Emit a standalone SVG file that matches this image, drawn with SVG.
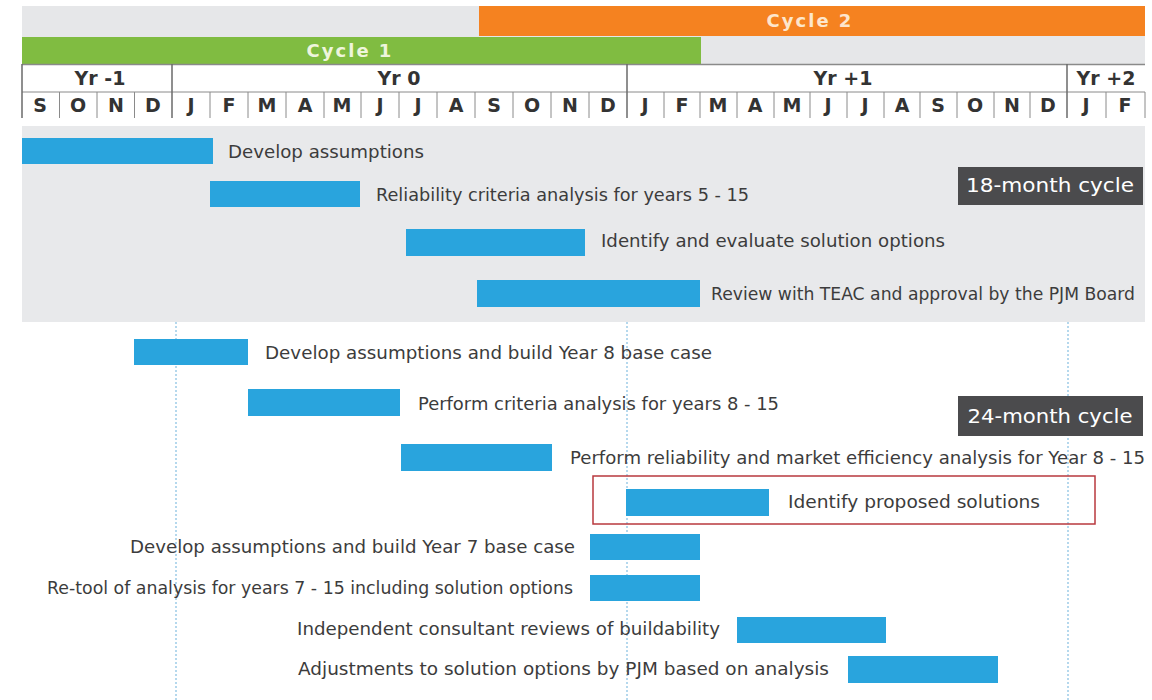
<svg xmlns="http://www.w3.org/2000/svg" width="1152" height="700" viewBox="0 0 1152 700">
<style>
.bar{fill:#29a4dd}
.lbl{font-family:"DejaVu Sans","Liberation Sans",sans-serif;font-size:17px;fill:#3c3c3c}
.hdr{font-family:"DejaVu Sans","Liberation Sans",sans-serif;font-weight:bold;font-size:19px;fill:#333;text-anchor:middle}
.cyc{font-family:"DejaVu Sans","Liberation Sans",sans-serif;font-weight:bold;font-size:18px;letter-spacing:2px;text-anchor:middle}
.box{fill:#4b4b4d}
.boxt{font-family:"DejaVu Sans","Liberation Sans",sans-serif;font-size:19px;fill:#fff;text-anchor:middle}
.msep{stroke:#8a8a8a;stroke-width:1}
.ysep{stroke:#6a6a6a;stroke-width:1.5}
.dot{stroke:#9dcbe8;stroke-width:1.5;stroke-dasharray:2 2;fill:none}
</style>
<rect width="1152" height="700" fill="#fff"/>
<g id="header">
<rect x="22" y="6" width="1123" height="58" fill="#e6e7e9"/>
<rect x="479" y="6" width="666" height="30" fill="#f58220"/>
<rect x="22" y="37" width="679" height="27" fill="#80bc41"/>
<text class="cyc" x="810" y="27" fill="#fde6cc">Cycle 2</text>
<text class="cyc" x="350" y="57" fill="#eef5dc">Cycle 1</text>
<rect x="22" y="64" width="1123" height="54" fill="#fff"/>
<line x1="22" y1="64.5" x2="1145" y2="64.5" stroke="#8a8a8a" stroke-width="1.5"/>
<line x1="22" y1="92" x2="1145" y2="92" stroke="#8a8a8a" stroke-width="1"/>
<line class="ysep" x1="22" y1="64" x2="22" y2="118"/>
<line class="ysep" x1="172" y1="64" x2="172" y2="118"/>
<line class="ysep" x1="627" y1="64" x2="627" y2="118"/>
<line class="ysep" x1="1067" y1="64" x2="1067" y2="118"/>
<g class="msep">
<line x1="59.5" y1="92" x2="59.5" y2="118"/><line x1="97" y1="92" x2="97" y2="118"/><line x1="134.5" y1="92" x2="134.5" y2="118"/>
<line x1="210" y1="92" x2="210" y2="118"/><line x1="248" y1="92" x2="248" y2="118"/><line x1="286" y1="92" x2="286" y2="118"/><line x1="324" y1="92" x2="324" y2="118"/><line x1="361" y1="92" x2="361" y2="118"/><line x1="399" y1="92" x2="399" y2="118"/><line x1="437" y1="92" x2="437" y2="118"/><line x1="475" y1="92" x2="475" y2="118"/><line x1="513" y1="92" x2="513" y2="118"/><line x1="551" y1="92" x2="551" y2="118"/><line x1="589" y1="92" x2="589" y2="118"/>
<line x1="664" y1="92" x2="664" y2="118"/><line x1="700" y1="92" x2="700" y2="118"/><line x1="737" y1="92" x2="737" y2="118"/><line x1="774" y1="92" x2="774" y2="118"/><line x1="810" y1="92" x2="810" y2="118"/><line x1="847" y1="92" x2="847" y2="118"/><line x1="884" y1="92" x2="884" y2="118"/><line x1="920" y1="92" x2="920" y2="118"/><line x1="957" y1="92" x2="957" y2="118"/><line x1="994" y1="92" x2="994" y2="118"/><line x1="1030" y1="92" x2="1030" y2="118"/>
<line x1="1106" y1="92" x2="1106" y2="118"/><line x1="1145" y1="92" x2="1145" y2="118"/>
</g>
<text class="hdr" x="100" y="85">Yr -1</text>
<text class="hdr" x="399" y="85">Yr 0</text>
<text class="hdr" x="843" y="85">Yr +1</text>
<text class="hdr" x="1106" y="85">Yr +2</text>
<g class="hdr">
<text x="40" y="112">S</text><text x="78" y="112">O</text><text x="116" y="112">N</text><text x="153" y="112">D</text>
<text x="191" y="112">J</text><text x="229" y="112">F</text><text x="267" y="112">M</text><text x="305" y="112">A</text><text x="342" y="112">M</text><text x="380" y="112">J</text><text x="418" y="112">J</text><text x="456" y="112">A</text><text x="494" y="112">S</text><text x="532" y="112">O</text><text x="570" y="112">N</text><text x="608" y="112">D</text>
<text x="645" y="112">J</text><text x="682" y="112">F</text><text x="718" y="112">M</text><text x="755" y="112">A</text><text x="792" y="112">M</text><text x="828" y="112">J</text><text x="865" y="112">J</text><text x="902" y="112">A</text><text x="938" y="112">S</text><text x="975" y="112">O</text><text x="1012" y="112">N</text><text x="1048" y="112">D</text>
<text x="1086" y="112">J</text><text x="1125" y="112">F</text>
</g>
</g>
<g id="panel18">
<rect x="22" y="126" width="1123" height="196" fill="#e8e9eb"/>
</g>
<g id="connectors">
<line class="dot" x1="176" y1="322" x2="176" y2="700"/>
<line class="dot" x1="627" y1="322" x2="627" y2="700"/>
<line class="dot" x1="1068" y1="322" x2="1068" y2="700"/>
</g>
<g id="t1"><rect class="bar" x="22" y="138" width="191" height="26"/><text class="lbl" x="228" y="158" textLength="196" lengthAdjust="spacingAndGlyphs">Develop assumptions</text></g>
<g id="t2"><rect class="bar" x="210" y="181" width="150" height="26"/><text class="lbl" x="376" y="201" textLength="373" lengthAdjust="spacingAndGlyphs">Reliability criteria analysis for years 5 - 15</text></g>
<g id="t3"><rect class="bar" x="406" y="229" width="179" height="27"/><text class="lbl" x="601" y="247" textLength="344" lengthAdjust="spacingAndGlyphs">Identify and evaluate solution options</text></g>
<g id="t4"><rect class="bar" x="477" y="280" width="223" height="27"/><text class="lbl" x="711" y="300" textLength="424" lengthAdjust="spacingAndGlyphs">Review with TEAC and approval by the PJM Board</text></g>
<g id="label18"><rect class="box" x="958" y="167" width="185" height="38"/><text class="boxt" x="1050" y="192" textLength="168" lengthAdjust="spacingAndGlyphs">18-month cycle</text></g>
<g id="t5"><rect class="bar" x="134" y="339" width="114" height="26"/><text class="lbl" x="265" y="359" textLength="447" lengthAdjust="spacingAndGlyphs">Develop assumptions and build Year 8 base case</text></g>
<g id="t6"><rect class="bar" x="248" y="389" width="152" height="27"/><text class="lbl" x="418" y="410" textLength="361" lengthAdjust="spacingAndGlyphs">Perform criteria analysis for years 8 - 15</text></g>
<g id="label24"><rect class="box" x="958" y="396" width="185" height="40"/><text class="boxt" x="1050" y="423" textLength="165" lengthAdjust="spacingAndGlyphs">24-month cycle</text></g>
<g id="t7"><rect class="bar" x="401" y="444" width="151" height="27"/><text class="lbl" x="570" y="464" textLength="575" lengthAdjust="spacingAndGlyphs">Perform reliability and market efficiency analysis for Year 8 - 15</text></g>
<g id="t8"><rect x="593" y="476" width="502" height="48" fill="none" stroke="#b8383e" stroke-width="1.5"/><rect class="bar" x="626" y="489" width="143" height="27"/><text class="lbl" x="788" y="508" textLength="252" lengthAdjust="spacingAndGlyphs">Identify proposed solutions</text></g>
<g id="t9"><rect class="bar" x="590" y="534" width="110" height="26"/><text class="lbl" x="575" y="553" text-anchor="end" textLength="445" lengthAdjust="spacingAndGlyphs">Develop assumptions and build Year 7 base case</text></g>
<g id="t10"><rect class="bar" x="590" y="575" width="110" height="26"/><text class="lbl" x="573" y="594" text-anchor="end" textLength="526" lengthAdjust="spacingAndGlyphs">Re-tool of analysis for years 7 - 15 including solution options</text></g>
<g id="t11"><rect class="bar" x="737" y="617" width="149" height="26"/><text class="lbl" x="720" y="635" text-anchor="end" textLength="423" lengthAdjust="spacingAndGlyphs">Independent consultant reviews of buildability</text></g>
<g id="t12"><rect class="bar" x="848" y="656" width="150" height="27"/><text class="lbl" x="829" y="675" text-anchor="end" textLength="531" lengthAdjust="spacingAndGlyphs">Adjustments to solution options by PJM based on analysis</text></g>
</svg>
